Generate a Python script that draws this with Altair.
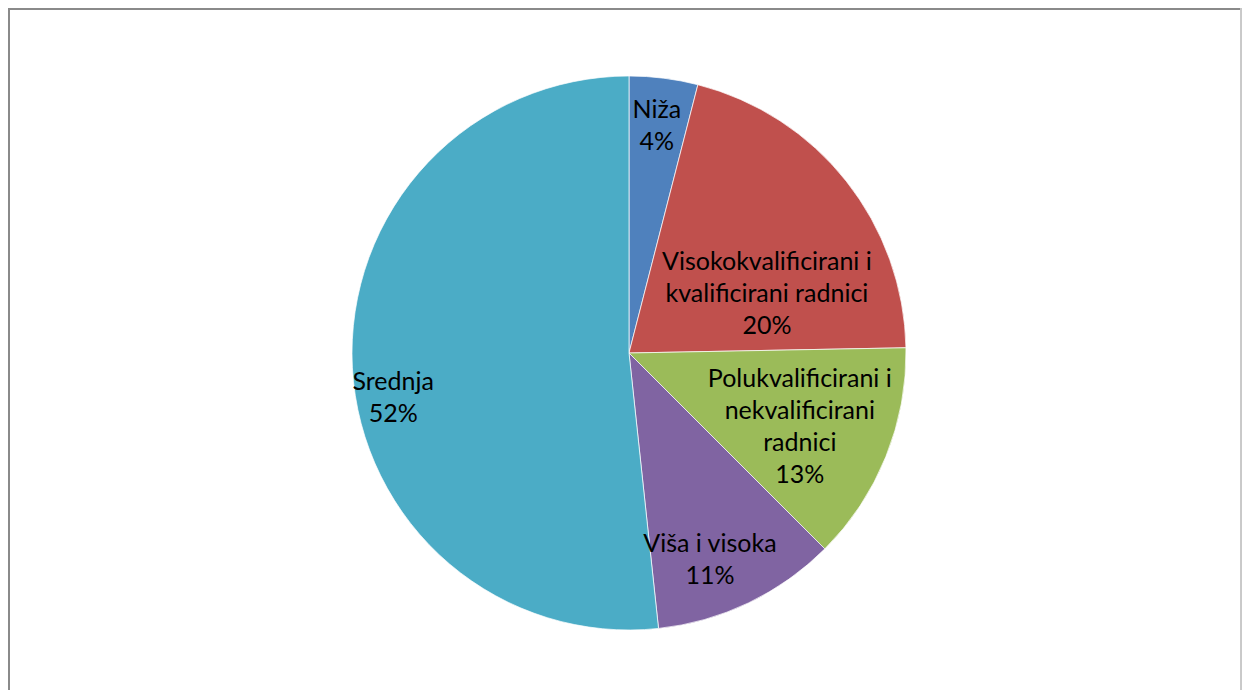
import altair as alt
import pandas as pd
import math

categories = ["Niža", "Visokokvalificirani i\nkvalificirani radnici",
              "Polukvalificirani i\nnekvalificirani\nradnici", "Viša i visoka", "Srednja"]
values = [4.0, 20.7, 12.8, 10.8, 51.7]
pct_labels = ["4%", "20%", "13%", "11%", "52%"]
colors = ["#4F81BD", "#C0504D", "#9BBB59", "#8064A2", "#4BACC6"]

df = pd.DataFrame({
    "cat": categories,
    "value": values,
    "order": list(range(len(categories))),
    "label": [c + "\n" + p for c, p in zip(categories, pct_labels)],
})

W, H = 1234, 682
CX, CY, R = 621, 345, 277
FONT = "Lato"
LH = 32

theta_scale = alt.Scale(domain=[0, 100], range=[0, 2 * math.pi])

base = alt.Chart(df).transform_window(
    cum="sum(value)", sort=[alt.SortField("order")], frame=[None, 0]
).transform_calculate(
    start="datum.cum - datum.value",
    mid="datum.cum - datum.value / 2",
).encode(
    x=alt.value(CX),
    y=alt.value(CY),
)

pie = base.mark_arc(radius=R, stroke="white", strokeWidth=0.7).encode(
    theta=alt.Theta("start:Q", scale=theta_scale),
    theta2="cum:Q",
    color=alt.Color("cat:N", scale=alt.Scale(domain=categories, range=colors), legend=None),
)

# label placement per slice: (radius, angle offset in radians)
label_style = [(229, -0.004), (150, 0.265), (186, 0.024), (222, 0.073), (240, -0.134)]
layers = [pie]
for cat, lab, (rad, off) in zip(categories, df["label"], label_style):
    n_lines = lab.count("\n") + 1
    layers.append(
        base.transform_filter(alt.datum.cat == cat)
        .mark_text(radius=rad, thetaOffset=off, font=FONT, fontSize=25,
                   lineBreak="\n", lineHeight=LH, color="black",
                   align="center", baseline="middle", dy=-(n_lines - 1) * LH / 2)
        .encode(theta=alt.Theta("mid:Q", scale=theta_scale), text="label:N")
    )

border_color = "#8a8a8a"
left = alt.Chart(df).mark_rule(color=border_color, strokeWidth=2).encode(
    x=alt.value(1), y=alt.value(0), y2=alt.value(H))
top = alt.Chart(df).mark_rule(color=border_color, strokeWidth=2).encode(
    x=alt.value(0), x2=alt.value(W), y=alt.value(1))
right = alt.Chart(df).mark_rule(color="#c8c8c8", strokeWidth=1).encode(
    x=alt.value(W - 1), y=alt.value(0), y2=alt.value(H))

chart = alt.layer(*layers, left, top, right).properties(
    width=W, height=H, autosize=alt.AutoSizeParams(type="none"), padding=0
).configure_view(stroke=None)

chart.save("out.html", embed_options={"renderer": "svg", "actions": False})
